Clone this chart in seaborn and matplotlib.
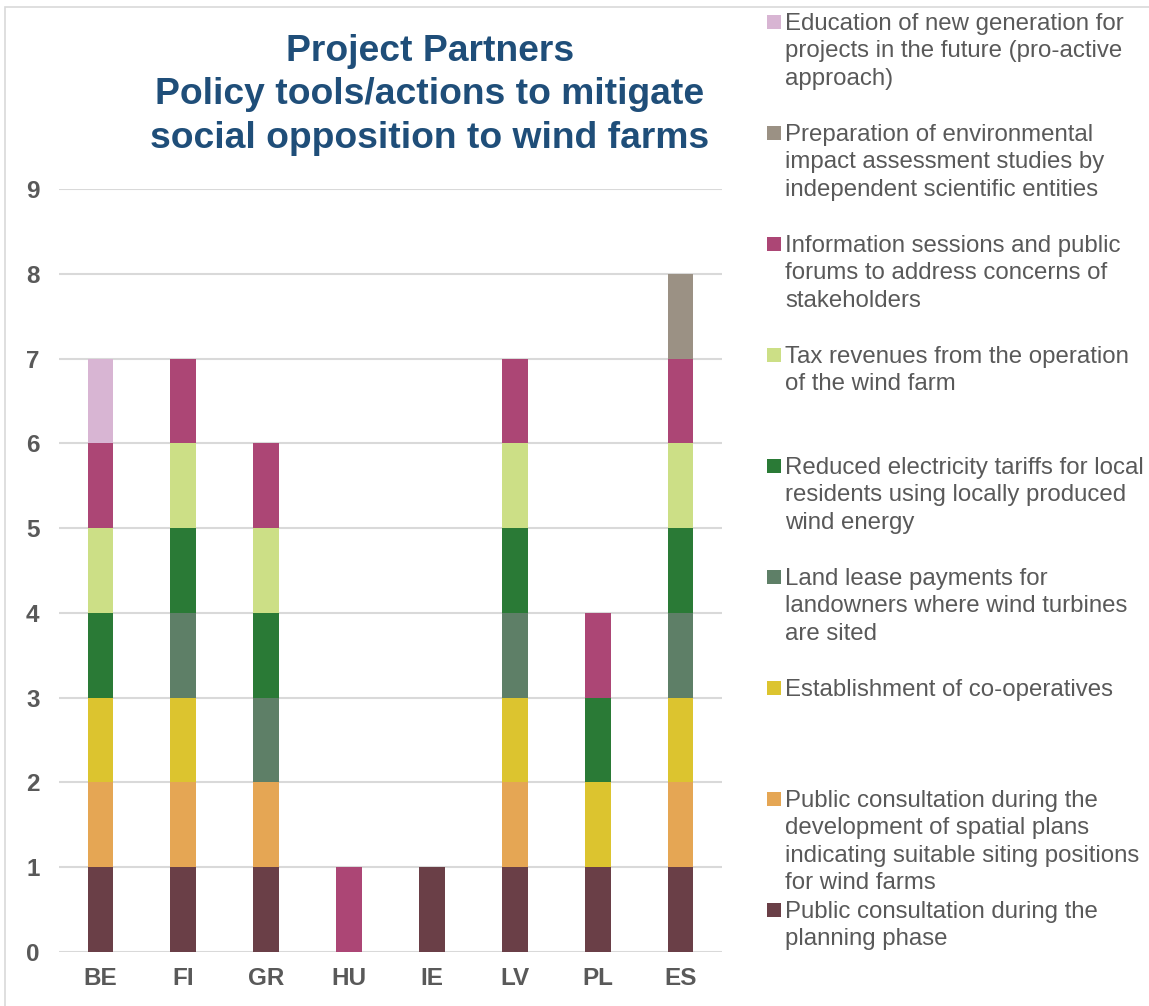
import pandas as pd
import matplotlib
matplotlib.use('Agg')
import matplotlib.pyplot as plt
from matplotlib.patches import Rectangle
import seaborn as sns

sns.set_style('white')
plt.rcParams['font.family'] = ['Liberation Sans', 'DejaVu Sans']

# dados: numero de parceiros por ferramenta / pais
countries = ['BE', 'FI', 'GR', 'HU', 'IE', 'LV', 'PL', 'ES']

planning = [1, 1, 1, 0, 1, 1, 1, 1]
spatial = [1, 1, 1, 0, 0, 1, 0, 1]
coop = [1, 1, 0, 0, 0, 1, 1, 1]
land_lease = [0, 1, 1, 0, 0, 1, 0, 1]
tariffs = [1, 1, 1, 0, 0, 1, 1, 1]
tax = [1, 1, 1, 0, 0, 1, 0, 1]
info = [1, 1, 1, 1, 0, 1, 1, 1]
eia = [0, 0, 0, 0, 0, 0, 0, 1]
education = [1, 0, 0, 0, 0, 0, 0, 0]

# ordem da legenda (de cima para baixo)
tools = [
    'Education of new generation for\nprojects in the future (pro-active\napproach)',
    'Preparation of environmental\nimpact assessment studies by\nindependent scientific entities',
    'Information sessions and public\nforums to address concerns of\nstakeholders',
    'Tax revenues from the operation\nof the wind farm',
    'Reduced electricity tariffs for local\nresidents using locally produced\nwind energy',
    'Land lease payments for\nlandowners where wind turbines\nare sited',
    'Establishment of co-operatives',
    'Public consultation during the\ndevelopment of spatial plans\nindicating suitable siting positions\nfor wind farms',
    'Public consultation during the\nplanning phase',
]
series = [education, eia, info, tax, tariffs, land_lease, coop, spatial, planning]
colors = ['#D8B5D3', '#9B9184', '#AC4675', '#CCDF86', '#2A7A36',
          '#5E7F67', '#DCC42F', '#E5A654', '#6A3F47']

rows = []
for i, c in enumerate(countries):
    for tool, vals in zip(tools, series):
        rows.append({'pais': c, 'ferramenta': tool, 'n': vals[i]})
df = pd.DataFrame(rows)

fig = plt.figure(figsize=(11.49, 10.06), dpi=100)
ax = fig.add_axes([59 / 1149, 54 / 1006, 663 / 1149, 763 / 1006])

sns.histplot(data=df, x='pais', hue='ferramenta', weights='n', hue_order=tools,
             palette=dict(zip(tools, colors)), multiple='stack', discrete=True,
             shrink=0.31, linewidth=0, alpha=1, legend=False, ax=ax)

ax.set_xlim(-0.5, 7.5)
ax.set_ylim(0, 9)
ax.set_yticks(range(10))
ax.set_xlabel('')
ax.set_ylabel('')
ax.grid(axis='y', color='#D9D9D9', linewidth=1.5)
ax.set_axisbelow(True)
sns.despine(ax=ax, left=True, bottom=True)
ax.tick_params(axis='y', length=0, pad=14, labelsize=17.5, labelcolor='#595959')
ax.tick_params(axis='x', length=0, pad=11, labelsize=17.5, labelcolor='#595959')
for lab in ax.get_xticklabels() + ax.get_yticklabels():
    lab.set_fontweight('bold')

fig.text(430 / 1149, 1 - 95 / 1006,
         'Project Partners\nPolicy tools/actions to mitigate\nsocial opposition to wind farms',
         ha='center', va='center', multialignment='center', fontsize=26.8,
         fontweight='bold', color='#1F4E79', linespacing=1.3)

# legenda manual, entradas com espacamento fixo
for k, (tool, col) in enumerate(zip(tools, colors)):
    yc = 22 + 111 * k
    fig.patches.append(Rectangle((767 / 1149, 1 - (yc + 7) / 1006), 14 / 1149, 14 / 1006,
                                 transform=fig.transFigure, facecolor=col, edgecolor='none'))
    fig.text(785 / 1149, 1 - (yc - 9) / 1006, tool, ha='left', va='top',
             fontsize=17.3, color='#595959', linespacing=1.32)

# moldura
fig.patches.append(Rectangle((5 / 1149, -0.05), 1.2, 1.05 - 7 / 1006, transform=fig.transFigure,
                             fill=False, edgecolor='#D9D9D9', linewidth=1.2))

fig.savefig('out.png', dpi=100)
